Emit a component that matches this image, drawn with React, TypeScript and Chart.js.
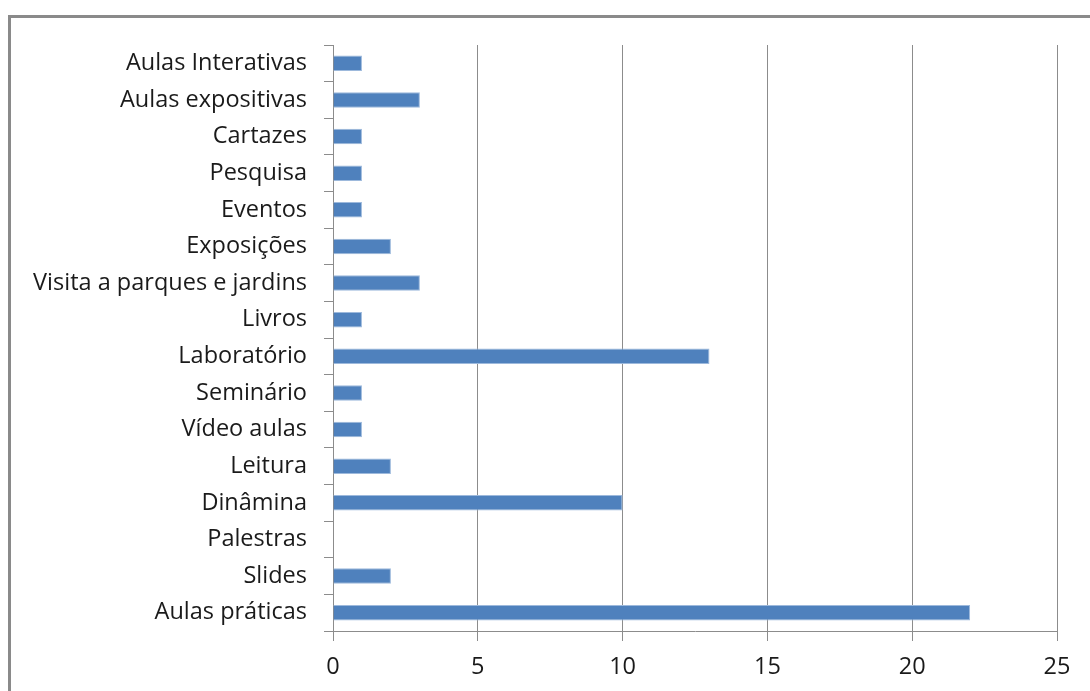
import React, { useEffect, useRef } from "react";
import { Chart, registerables } from "chart.js";

Chart.register(...registerables);

const categories = [
  "Aulas Interativas",
  "Aulas expositivas",
  "Cartazes",
  "Pesquisa",
  "Eventos",
  "Exposições",
  "Visita a parques e jardins",
  "Livros",
  "Laboratório",
  "Seminário",
  "Vídeo aulas",
  "Leitura",
  "Dinâmina",
  "Palestras",
  "Slides",
  "Aulas práticas",
];

const values = [1, 3, 1, 1, 1, 2, 3, 1, 13, 1, 1, 2, 10, 0, 2, 22];

const xTicks = [0, 5, 10, 15, 20, 25];

const FONT = "'Open Sans', Lato, sans-serif";

// Gray outline drawn around the chart, open on the right and bottom
const framePlugin = {
  id: "frame",
  beforeDraw(chart: Chart) {
    const ctx = chart.ctx;
    ctx.save();
    ctx.strokeStyle = "#8a8a8a";
    ctx.lineWidth = 3;
    ctx.beginPath();
    ctx.moveTo(9.5, chart.height);
    ctx.lineTo(9.5, 16.5);
    ctx.lineTo(chart.width, 16.5);
    ctx.stroke();
    ctx.restore();
  },
};

export default function App() {
  const canvasRef = useRef<HTMLCanvasElement>(null);

  useEffect(() => {
    if (!canvasRef.current) return;
    const chart = new Chart(canvasRef.current, {
      type: "bar",
      data: {
        labels: categories,
        datasets: [
          {
            data: values,
            backgroundColor: "#4F81BD",
            borderColor: "#9DB9DC",
            borderWidth: 1,
            barPercentage: 0.84,
            categoryPercentage: 0.5,
          },
        ],
      },
      options: {
        indexAxis: "y",
        animation: false,
        responsive: false,
        layout: { padding: { top: 45, right: 33, left: 0, bottom: 0 } },
        plugins: {
          legend: { display: false },
          tooltip: { enabled: false },
        },
        scales: {
          x: {
            min: 0,
            max: 25,
            afterBuildTicks(scale: any) {
              scale.ticks = xTicks.map((v) => ({ value: v }));
            },
            afterFit(scale: any) {
              scale.height = 60;
            },
            grid: {
              color: "#8c8c8c",
              lineWidth: 1,
              tickLength: 10,
              drawTicks: true,
            },
            border: { display: true, color: "#8c8c8c", width: 1 },
            ticks: {
              color: "#1a1a1a",
              font: { family: FONT, size: 23.5 },
              padding: 12,
            },
          },
          y: {
            offset: true,
            afterFit(scale: any) {
              scale.width = 333;
            },
            grid: {
              offset: true,
              drawOnChartArea: false,
              drawTicks: true,
              tickLength: 9,
              color: "#8c8c8c",
            },
            border: { display: true, color: "#8c8c8c", width: 1 },
            ticks: {
              color: "#1a1a1a",
              font: { family: FONT, size: 23.5 },
              padding: 17,
              autoSkip: false,
            },
          },
        },
      },
      plugins: [framePlugin],
    });
    return () => chart.destroy();
  }, []);

  return (
    <div style={{ position: "fixed", left: 0, top: 0, width: 1090, height: 691, background: "#fff" }}>
      <canvas ref={canvasRef} width={1090} height={691} />
    </div>
  );
}
